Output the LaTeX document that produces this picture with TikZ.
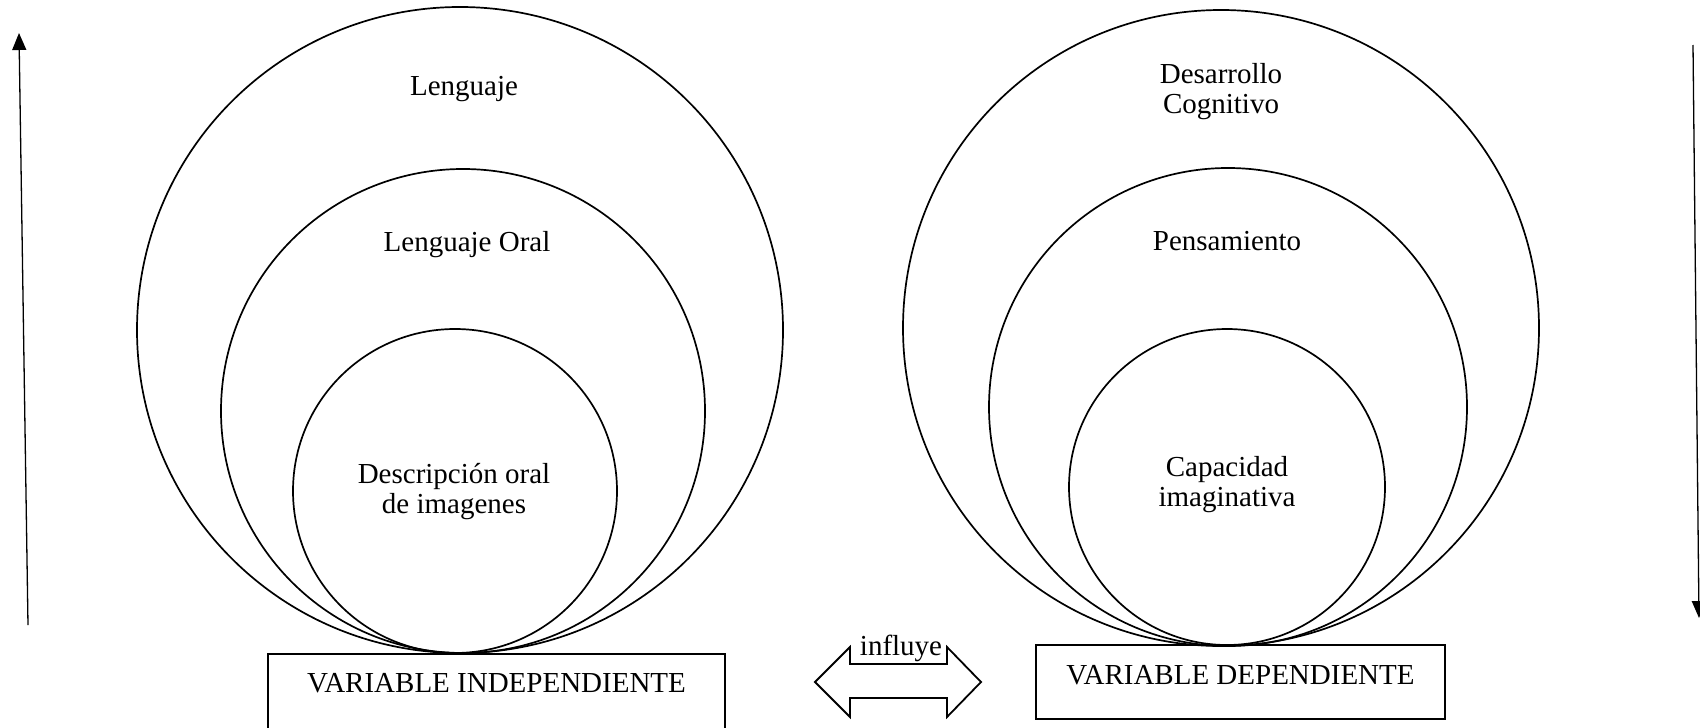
\documentclass[tikz,border=0pt]{standalone}
\usepackage{fontspec}
\setmainfont{Liberation Serif}
\usetikzlibrary{positioning,arrows.meta}

\begin{document}
\begin{tikzpicture}[%
    x=1pt, y=-1pt,
    >={Triangle[length=17pt,width=14pt]},
    ring/.style={%
      circle,
      draw,
      line width=1.7pt,
      inner sep=0pt
    },
    txt/.style={%
      font=\fontsize{29}{30}\selectfont,
      align=center,
      inner sep=0pt
    },
    varbox/.style={%
      draw,
      line width=2.2pt,
      font=\fontsize{29}{30}\selectfont,
      text height=19pt,
      inner xsep=0pt,
      anchor=north
    }
  ]
    \useasboundingbox (0,0) rectangle (1700,728);

    % left side
    \node[ring, minimum size=646pt] (len) at (460,330) {};
    \node[ring, minimum size=484pt] (lenoral) at (463,411) {};
    \node[ring, minimum size=324pt] (desc) at (455,491) {};

    \node[txt] (tlen) at (464,89) {Lenguaje};
    \node[txt] (tlenoral) at (467,245) {Lenguaje Oral};
    \node[txt] (tdesc) at (454,492) {Descripción oral\\de imagenes};

    % right side
    \node[ring, minimum size=636pt] (des) at (1221,328) {};
    \node[ring, minimum size=478pt] (pens) at (1228,407) {};
    \node[ring, minimum size=316pt] (cap) at (1227,487) {};

    \node[txt] (tdes) at (1221,92) {Desarrollo\\Cognitivo};
    \node[txt] (tpens) at (1227,241) {Pensamiento};
    \node[txt] (tcap) at (1227,485) {Capacidad\\imaginativa};

    % variables
    \node[varbox, minimum width=457pt, inner ysep=19pt, text depth=31pt]
      (vi) at (496.5,653) {VARIABLE INDEPENDIENTE};
    \node[varbox, minimum width=409pt, inner ysep=20pt, text depth=15pt]
      (vd) at (1240.5,644) {VARIABLE DEPENDIENTE};

    % influye
    \coordinate (flecha) at (898,682);
    \draw[line width=1.8pt, shift={(flecha)}]
      (-83,0) -- (-48,-35) -- (-48,-18) -- (49,-18) -- (49,-35) -- (83,0)
      -- (49,35) -- (49,16) -- (-48,16) -- (-48,35) -- cycle;
    \node[txt, anchor=base] (infl) at (901,655) {influye};

    % side arrows
    \coordinate (lbot) at (28,625);
    \coordinate (ltop) at (19,33);
    \coordinate (rtop) at (1693,45);
    \coordinate (rbot) at (1699,618);
    \draw[->, line width=1.3pt] (lbot) -- (ltop);
    \draw[->, line width=1.3pt] (rtop) -- (rbot);
\end{tikzpicture}
\end{document}
